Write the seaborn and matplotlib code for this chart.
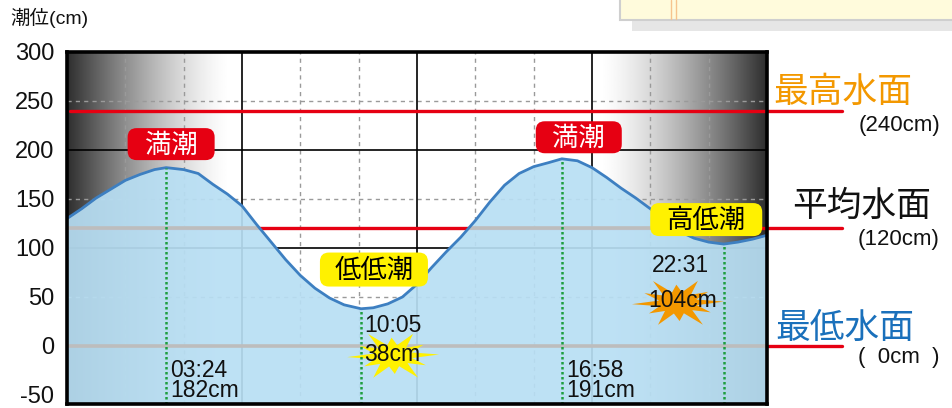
import numpy as np
import pandas as pd
import matplotlib
matplotlib.use("Agg")
import matplotlib.pyplot as plt
import seaborn as sns
from matplotlib.patches import FancyBboxPatch, Polygon, Rectangle

# ---- data -------------------------------------------------------------
# tide level through the day (hour of day, cm)
hours = [0.0, 0.5, 1.0, 1.5, 2.0, 2.5, 3.0, 3.4, 4.0, 4.5, 5.0, 5.5, 6.0,
         6.5, 7.0, 7.5, 8.0, 8.5, 9.0, 9.5, 10.083, 10.5, 11.0, 11.5, 12.0,
         12.5, 13.0, 13.5, 14.0, 14.5, 15.0, 15.5, 16.0, 16.5, 16.967,
         17.5, 18.0, 18.5, 19.0, 19.5, 20.0, 20.5, 21.0, 21.5, 22.0,
         22.517, 23.0, 23.5, 24.0]
level_cm = [130, 140, 151, 160, 169, 175, 180, 182, 180, 176, 165, 155, 143,
            124, 106, 88, 72, 59, 49, 42, 38, 39, 43, 50, 63,
            80, 96, 111, 128, 147, 164, 176, 183, 187, 191,
            189, 182, 172, 161, 151, 140, 128, 117, 110, 106,
            104, 106, 109, 113]

# high / low water events
event_times = ["03:24", "10:05", "16:58", "22:31"]
event_levels = [182, 38, 191, 104]
event_names = ["満潮", "低低潮", "満潮", "高低潮"]

# reference water levels shown on the right
ref_levels = [240, 120, 0]
ref_names = ["最高水面", "平均水面", "最低水面"]
ref_captions = ["(240cm)", "(120cm)", "(  0cm  )"]

ytick_values = [-50, 0, 50, 100, 150, 200, 250, 300]
ytick_labels = ["-50", "0", "50", "100", "150", "200", "250", "300"]

# ---- layout -----------------------------------------------------------
W, H = 953, 408
AX_L, AX_T, AX_R, AX_B = 67, 52, 767, 404
Y_TOP, Y_BOT = 300, -59.2
PX_H = (AX_R - AX_L) / 24.0                 # pixels per hour
PX_CM = (AX_B - AX_T) / (Y_TOP - Y_BOT)     # pixels per cm

sns.set_theme(style="white")
plt.rcParams["font.family"] = ["Liberation Sans", "Noto Sans CJK JP", "DejaVu Sans"]
CJK = ["Noto Sans CJK JP", "DejaVu Sans"]

fig = plt.figure(figsize=(W / 100, H / 100), dpi=100)
fig.patch.set_facecolor("white")
ax = fig.add_axes([AX_L / W, 1 - AX_B / H, (AX_R - AX_L) / W, (AX_B - AX_T) / H])
ax.set_xlim(0, 24)
ax.set_ylim(Y_BOT, Y_TOP)

def fx(px):
    return px / W

def fy(py):
    return 1 - py / H

# decorative panel peeking in at the top right
fig.patches.append(Rectangle((fx(632), fy(31)), fx(330), 11 / H, transform=fig.transFigure,
                             fc="#e6e6e6", ec="none", zorder=0))
fig.patches.append(Rectangle((fx(620), fy(20)), fx(340), 30 / H, transform=fig.transFigure,
                             fc="#fffbdc", ec="#cfcfcf", lw=1.5, zorder=1))
for xl in (671, 676):
    fig.lines.append(plt.Line2D([fx(xl), fx(xl)], [fy(19), 1.0], transform=fig.transFigure,
                                color="#f6c48e", lw=1.0, zorder=2))

# dusk/dawn shading behind the chart
g = np.linspace(0, 24, 700)
dark = np.maximum(np.clip(1 - g / 5.6, 0, 1), np.clip((g - 18.3) / 5.7, 0, 1)) ** 1.4 * 0.82
shade = np.tile(1 - dark, (2, 1))
ax.imshow(shade, extent=[0, 24, Y_BOT, Y_TOP], aspect="auto", cmap="gray",
          vmin=0, vmax=1, zorder=0, interpolation="bilinear")

# grid
for hx in [2, 4, 8, 10, 14, 16, 20, 22]:
    ax.axvline(hx, color="#9a9a9a", lw=1.0, ls=(0, (3, 3)), zorder=1)
for hy in [50, 150, 250]:
    ax.axhline(hy, color="#9a9a9a", lw=1.0, ls=(0, (3, 3)), zorder=1)
for hx in [6, 12, 18]:
    ax.axvline(hx, color="black", lw=1.2, zorder=1)
for hy in [100, 200]:
    ax.axhline(hy, color="black", lw=1.2, zorder=1)

# reference lines (red above the water, extending out to the labels)
x_out = (842 - AX_L) / PX_H
ax.plot([0.1, x_out], [ref_levels[0]] * 2, color="#e60012", lw=2.4, zorder=1.5, clip_on=False)
ax.plot([0, x_out], [ref_levels[1]] * 2, color="#e60012", lw=2.4, zorder=1.5, clip_on=False)
ax.plot([24, x_out], [ref_levels[2]] * 2, color="#e60012", lw=2.4, zorder=1.5, clip_on=False)

# water body
tide = pd.DataFrame({"hour": hours, "level": level_cm})
water = ax.fill_between(tide["hour"], tide["level"], Y_BOT, color="#b8dff4",
                        alpha=0.92, lw=0, zorder=2)
clip = water.get_paths()[0]
for lv in (ref_levels[1], ref_levels[2]):
    ln, = ax.plot([0, 24], [lv, lv], color="#bdbdbd", lw=2.6, zorder=2.5)
    ln.set_clip_path(clip, ax.transData)
sns.lineplot(data=tide, x="hour", y="level", ax=ax, color="#3d7fc1", lw=2.0,
             zorder=3, legend=False)

# event markers
ev_h = [int(t[:2]) + int(t[3:]) / 60 for t in event_times]
ax.vlines(ev_h, Y_BOT, event_levels, colors="#1e9e3e", lw=1.8,
          linestyles=(0, (1, 1)), zorder=4.5)

def tag(xc, yc, text, w_px, h_px, fc, tc):
    w, h = w_px / PX_H, h_px / PX_CM
    box = FancyBboxPatch((xc - w / 2, yc - h / 2), w, h,
                         boxstyle="round,pad=0,rounding_size=%f" % (9 / PX_H),
                         mutation_aspect=PX_H / PX_CM, fc=fc, ec="none", zorder=6,
                         clip_on=False)
    ax.add_patch(box)
    ax.text(xc, yc - 1, text, ha="center", va="center", color=tc, fontsize=19,
            family=CJK, zorder=7)

def burst(xc, yc, rx_px, ry_px, color):
    n = 24
    outer = [1.0, 0.78, 0.95, 0.7, 1.0, 0.82, 1.0, 0.75, 0.95, 0.7, 1.0, 0.8]
    pts = []
    for i in range(n):
        a = 2 * np.pi * i / n + 0.05
        r = outer[i // 2] if i % 2 == 0 else 0.42
        pts.append((xc + rx_px * r * np.cos(a) / PX_H, yc + ry_px * r * np.sin(a) / PX_CM))
    ax.add_patch(Polygon(pts, closed=True, fc=color, ec="none", zorder=4))

# high water tags
tag(ev_h[0] + 0.17, event_levels[0] + 24, event_names[0], 87, 32, "#e60012", "white")
tag(ev_h[2] + 0.58, event_levels[2] + 22, event_names[2], 86, 32, "#e60012", "white")
# low water tags
tag(ev_h[1] + 0.44, event_levels[1] + 40, event_names[1], 108, 34, "#fff100", "black")
tag(ev_h[3] - 0.6, event_levels[3] + 25, event_names[3], 112, 33, "#fff100", "black")

# time / level captions
for i in (0, 2):
    ax.text(ev_h[i] + 0.15, -35, f"{event_times[i]}\n{event_levels[i]}cm", ha="left",
            va="center", fontsize=16.5, color="#111111", zorder=7, linespacing=0.85)

burst(ev_h[1] + 1.1, -10, 46, 26, "#fff100")
ax.text(ev_h[1] + 1.1, 21, event_times[1], ha="center", va="center", fontsize=16.5,
        color="#111111", zorder=7)
ax.text(ev_h[1] + 1.06, -9, f"{event_levels[1]}cm", ha="center", va="center",
        fontsize=16.5, color="#111111", zorder=7)

burst(ev_h[3] - 1.57, 44, 46, 26, "#f39800")
ax.text(ev_h[3] - 1.47, 82, event_times[3], ha="center", va="center", fontsize=16.5,
        color="#111111", zorder=7)
ax.text(ev_h[3] - 1.4, 46, f"{event_levels[3]}cm", ha="center", va="center",
        fontsize=16.5, color="#111111", zorder=7)

# right-hand labels for reference levels
ref_colors = ["#f39800", "#111111", "#1a70bb"]
ref_name_xy = [(843, 92), (862, 206), (845, 328)]
ref_cap_y = [126, 240, 358]
for name, cap, col, (nx, ny), cy in zip(ref_names, ref_captions, ref_colors,
                                         ref_name_xy, ref_cap_y):
    fig.text(fx(nx), fy(ny), name, ha="center", va="center", fontsize=25,
             color=col, family=CJK)
    fig.text(fx(940), fy(cy), cap, ha="right", va="center", fontsize=16, color="#111111")

# y axis
fig.text(fx(10), fy(18), "潮位(cm)", ha="left", va="center", fontsize=14, color="#111111")
ax.set_yticks(ytick_values)
ax.set_yticklabels(ytick_labels, fontsize=17, color="#111111")
ax.set_xticks([])
ax.tick_params(axis="y", length=0, pad=9)
ax.set_xlabel("")
ax.set_ylabel("")
for s in ax.spines.values():
    s.set_color("black")
    s.set_linewidth(2.6)
    s.set_zorder(8)

fig.savefig("out.png", dpi=100)
